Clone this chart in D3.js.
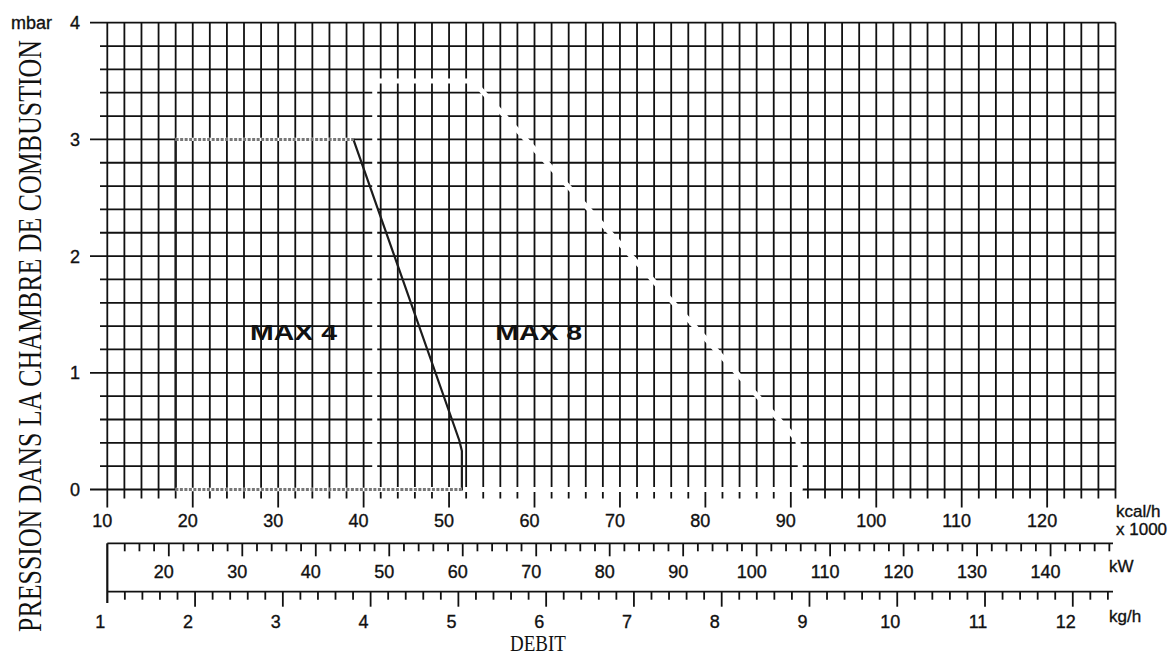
<!DOCTYPE html>
<html><head><meta charset="utf-8">
<script src="https://cdn.jsdelivr.net/npm/d3@7"></script>
<style>html,body{margin:0;padding:0;background:#fff;} svg{display:block;}</style>
</head><body><svg id="c" width="1172" height="658"></svg>
<script>
// ---- data ----
const kcalTicks = [10,20,30,40,50,60,70,80,90,100,110,120];
const kwTicks = [20,30,40,50,60,70,80,90,100,110,120,130,140];
const kgTicks = [1,2,3,4,5,6,7,8,9,10,11,12];
const pressureTicks = [0,1,2,3,4];
// outlines in (kcal/h x1000, mbar)
const max4Outline = [[18,0],[18,3],[38.8,3],[51.2,0.42],[51.5,0.33],[51.5,0],[18,0]];
const max8Outline = [[41.3,0],[41.3,3.5],[52.8,3.5],[90.8,0.42],[91.1,0.3],[91.1,0],[41.3,0]];
const zoneNames = ["MAX 4","MAX 8"];
const zoneKcal = [26.7, 55.4];
const zonePressure = [1.28, 1.28];

// ---- scales ----
const svg = d3.select("#c");
const x = d3.scaleLinear().domain([10,128]).range([107.3,1115.5]);
const y = d3.scaleLinear().domain([0,4]).range([489.5,22.7]);
const kw = d3.scaleLinear().domain([10/0.86,128/0.86]).range([x(10),x(128)]);
const kg = d3.scaleLinear().domain([1,12]).range([x(10),x(123)]);
const ink = "#111";
const sans = "'Liberation Sans', Arial, sans-serif";
const serif = "'Liberation Serif', 'Times New Roman', serif";
function label(t, px, py, size, anchor){
  return svg.append("text").attr("x",px).attr("y",py).attr("text-anchor",anchor||"start")
    .attr("font-family",sans).attr("font-size",size).attr("fill","#111")
    .attr("stroke","#111").attr("stroke-width",0.35).text(t);
}

// ---- grid ----
const g = svg.append("g");
d3.range(10,128.001,2).forEach(v=>{
  const major = Math.abs(v%10)<1e-6;
  g.append("line").attr("x1",x(v)).attr("x2",x(v))
    .attr("y1",y(4)).attr("y2",y(0)+(major?18:9))
    .attr("stroke",ink).attr("stroke-width",1.8);
});
d3.range(0,4.001,0.2).forEach(p=>{
  const major = Math.abs(p-Math.round(p))<1e-6;
  g.append("line").attr("x1",major?90:100).attr("x2",x(128))
    .attr("y1",y(p)).attr("y2",y(p))
    .attr("stroke",ink).attr("stroke-width",1.8);
});

// ---- MAX 8 outline (white line over grid) ----
const line = d3.line().x(d=>x(d[0])).y(d=>y(d[1]));
svg.append("path").attr("d",line(max8Outline)).attr("fill","none")
  .attr("stroke","#fff").attr("stroke-width",5).attr("stroke-linejoin","round");

// ---- MAX 4 outline ----
svg.append("path").attr("d",line(max4Outline)).attr("fill","none")
  .attr("stroke","#1c1c1c").attr("stroke-width",2.2);
for(let i=0;i<max4Outline.length-1;i++){
  const a=max4Outline[i], b=max4Outline[i+1];
  if(a[1]===b[1] && a[0]!==b[0]){
    svg.append("path").attr("d",line([a,b])).attr("fill","none")
      .attr("stroke","#fff").attr("stroke-width",3.4);
    svg.append("path").attr("d",line([a,b])).attr("fill","none")
      .attr("stroke","#777").attr("stroke-width",3).attr("stroke-dasharray","3,1.5");
  }
}

// ---- zone labels ----
zoneNames.forEach((t,i)=>{
  svg.append("text").attr("x",x(zoneKcal[i])).attr("y",y(zonePressure[i]))
    .attr("font-family",sans).attr("font-weight","bold").attr("font-size",22)
    .attr("textLength",87).attr("lengthAdjust","spacingAndGlyphs")
    .attr("fill","#111").text(t);
});

// ---- y axis labels ----
pressureTicks.forEach(p=> label(p, 80, y(p)+6.5, 18, "end"));
label("mbar", 11, y(4)+6, 18);

// ---- kcal axis labels ----
kcalTicks.forEach(v=> label(v, x(v)-5, y(0)+37, 18, "middle"));
label("kcal/h", 1116, 517, 17);
label("x 1000", 1116, 535, 17);

// ---- kW axis ----
const kwY = 543.3;
svg.append("line").attr("x1",x(10)).attr("x2",1113).attr("y1",kwY).attr("y2",kwY)
  .attr("stroke",ink).attr("stroke-width",1.8);
d3.range(14,148.001,2).forEach(v=>{
  const major = v%10===0;
  svg.append("line").attr("x1",kw(v)).attr("x2",kw(v)).attr("y1",kwY).attr("y2",kwY+(major?13:8))
    .attr("stroke",ink).attr("stroke-width",1.8);
});
kwTicks.forEach(v=> label(v, kw(v)-5, 577.5, 18, "middle"));
label("kW", 1109, 571.5, 17);

// ---- kg/h axis ----
const kgY = 591.7;
svg.append("line").attr("x1",x(10)).attr("x2",x(10)).attr("y1",kwY).attr("y2",603)
  .attr("stroke",ink).attr("stroke-width",2.2);
svg.append("line").attr("x1",x(10)).attr("x2",1113).attr("y1",kgY).attr("y2",kgY)
  .attr("stroke",ink).attr("stroke-width",1.8);
d3.range(1.2,12.401,0.2).forEach(v=>{
  const major = Math.abs(v-Math.round(v))<1e-6;
  svg.append("line").attr("x1",kg(v)).attr("x2",kg(v)).attr("y1",kgY).attr("y2",kgY+(major?15:8))
    .attr("stroke",ink).attr("stroke-width",1.8);
});
kgTicks.forEach(v=> label(v, kg(v)-7, 627.5, 18, "middle"));
label("kg/h", 1109, 622, 17);

// ---- titles ----
svg.append("text").attr("transform","translate(538,651) scale(1,1.25)")
  .attr("text-anchor","middle")
  .attr("font-family",serif).attr("font-size",19).attr("fill","#111").text("DEBIT");
svg.append("text").attr("transform","translate(40.5,336) rotate(-90) scale(1,1.5)")
  .attr("text-anchor","middle").attr("font-family",serif).attr("font-size",22)
  .attr("textLength",592).attr("lengthAdjust","spacingAndGlyphs")
  .attr("fill","#111").text("PRESSION DANS LA CHAMBRE DE COMBUSTION");
</script></body></html>
